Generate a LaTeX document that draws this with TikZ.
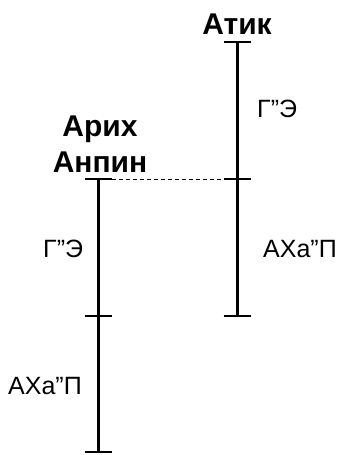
\documentclass[tikz,border=0pt]{standalone}
\usepackage{fontspec}
\setmainfont{Liberation Sans}
\begin{document}
\begin{tikzpicture}[x=1pt,y=-1pt,
  bar/.style={line width=3pt},
  tick/.style={line width=2.6pt},
  lbl/.style={font=\fontsize{25}{30}\selectfont, inner sep=0pt},
  head/.style={font=\fontsize{30}{36}\selectfont\bfseries, inner sep=0pt, align=center}]
\useasboundingbox (0,0) rectangle (341,455);
% right column (Atik)
\coordinate (rt) at (237,42);
\coordinate (rm) at (237,179);
\coordinate (rb) at (237,316);
% left column (Arikh Anpin)
\coordinate (lt) at (98,179);
\coordinate (lm) at (98,316);
\coordinate (lb) at (98,452);
\draw[bar] (rt) -- (rb);
\draw[bar] (lt) -- (lb);
\foreach \c in {rt,rm,rb,lt,lm,lb}{
  \draw[tick] ([xshift=-13.5pt]\c) -- ([xshift=13.5pt]\c);
}
\draw[dashed, line width=0.9pt, dash pattern=on 4pt off 3pt] ([xshift=13.5pt]lt) -- ([xshift=-13.5pt]rm);
\node[head, anchor=base] (atik) at (237,34) {Атик};
\node[head, anchor=base] (arikh) at (100,172) {Арих\\Анпин};
\node[lbl, anchor=base west] (ge1) at (257,117) {Г”Э};
\node[lbl, anchor=base west] (ahap1) at (263,257) {АХа”П};
\node[lbl, anchor=base west] (ge2) at (43,257) {Г”Э};
\node[lbl, anchor=base west] (ahap2) at (8,394) {АХа”П};
\end{tikzpicture}
\end{document}
